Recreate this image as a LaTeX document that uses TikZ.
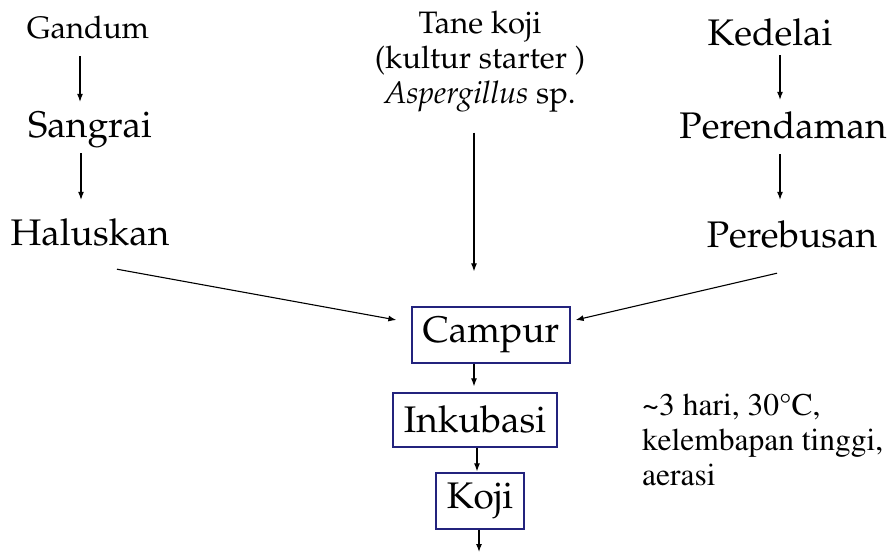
\documentclass[tikz,border=0pt]{standalone}
\usepackage[T1]{fontenc}
\renewcommand{\rmdefault}{ppl}
\usetikzlibrary{arrows.meta}
\definecolor{boxblue}{RGB}{35,35,125}
\begin{document}
\begin{tikzpicture}[x=1pt,y=-1pt,
  big/.style={font=\fontsize{37}{40}\selectfont, inner sep=0pt, text height=26pt, text depth=9pt, anchor=base},
  small/.style={font=\fontsize{31}{35}\selectfont, inner sep=0pt, text height=22pt, text depth=8pt, anchor=base},
  multi/.style={font=\fontsize{31}{35}\selectfont, inner sep=0pt, align=center, anchor=north},
  note/.style={font=\fontfamily{ptm}\fontsize{31.5}{35}\selectfont, inner sep=0pt, align=left, anchor=north west},
  box/.style={draw=boxblue, line width=1.3pt, font=\fontsize{37}{40}\selectfont, inner sep=0pt},
  arr/.style={-{Latex[length=8pt,width=6pt]}, line width=1.1pt}]
\useasboundingbox (0,0) rectangle (889,554);
\node[small] (gandum) at (88,38) {Gandum};
\node[big] (sangrai) at (90,137) {Sangrai};
\node[big] (haluskan) at (90,245) {Haluskan};
\node[multi] (tane) at (480,10.5) {Tane koji\\(kultur starter )\\\textit{Aspergillus} sp.};
\node[big] (kedelai) at (770,45) {Kedelai};
\node[big] (perendaman) at (783,138) {Perendaman};
\node[big] (perebusan) at (792,247) {Perebusan};
\node[box, minimum width=158pt, minimum height=56pt] (campur) at (491,335) {Campur};
\node[box, minimum width=164pt, minimum height=54pt] (inkubasi) at (475,420) {Inkubasi};
\node[box, minimum width=88pt, minimum height=56pt] (koji) at (480,501) {Koji};
\node[note] (cond) at (642,394) {\textasciitilde 3 hari, 30\textdegree C,\\kelembapan tinggi,\\aerasi};
\coordinate (kojiend) at (479,552);
\draw[arr] ([xshift=-8pt,yshift=-10pt]gandum.south) -- ([xshift=-10pt,yshift=9pt]sangrai.north);
\draw[arr] ([xshift=-9pt,yshift=-7pt]sangrai.south) -- ([xshift=-9pt,yshift=19pt]haluskan.north);
\draw[arr] ([xshift=27pt,yshift=-15pt]haluskan.south) -- ([xshift=-15pt,yshift=15pt]campur.west);
\draw[arr] ([xshift=-6pt,yshift=-20.5pt]tane.south) -- ([xshift=-17pt,yshift=35pt]campur.north);
\draw[arr] ([xshift=10pt,yshift=-1pt]kedelai.south) -- ([xshift=-3pt,yshift=12pt]perendaman.north);
\draw[arr] ([xshift=-3pt,yshift=-7pt]perendaman.south) -- ([xshift=-12pt,yshift=21pt]perebusan.north);
\draw[arr] ([xshift=-15pt,yshift=-17pt]perebusan.south) -- ([xshift=5pt,yshift=15pt]campur.east);
\draw[arr] ([xshift=-17pt]campur.south) -- ([xshift=-1pt,yshift=6pt]inkubasi.north);
\draw[arr] ([xshift=2pt]inkubasi.south) -- ([xshift=-3pt,yshift=1pt]koji.north);
\draw[arr] ([xshift=-1pt]koji.south) -- (kojiend);
\end{tikzpicture}
\end{document}
